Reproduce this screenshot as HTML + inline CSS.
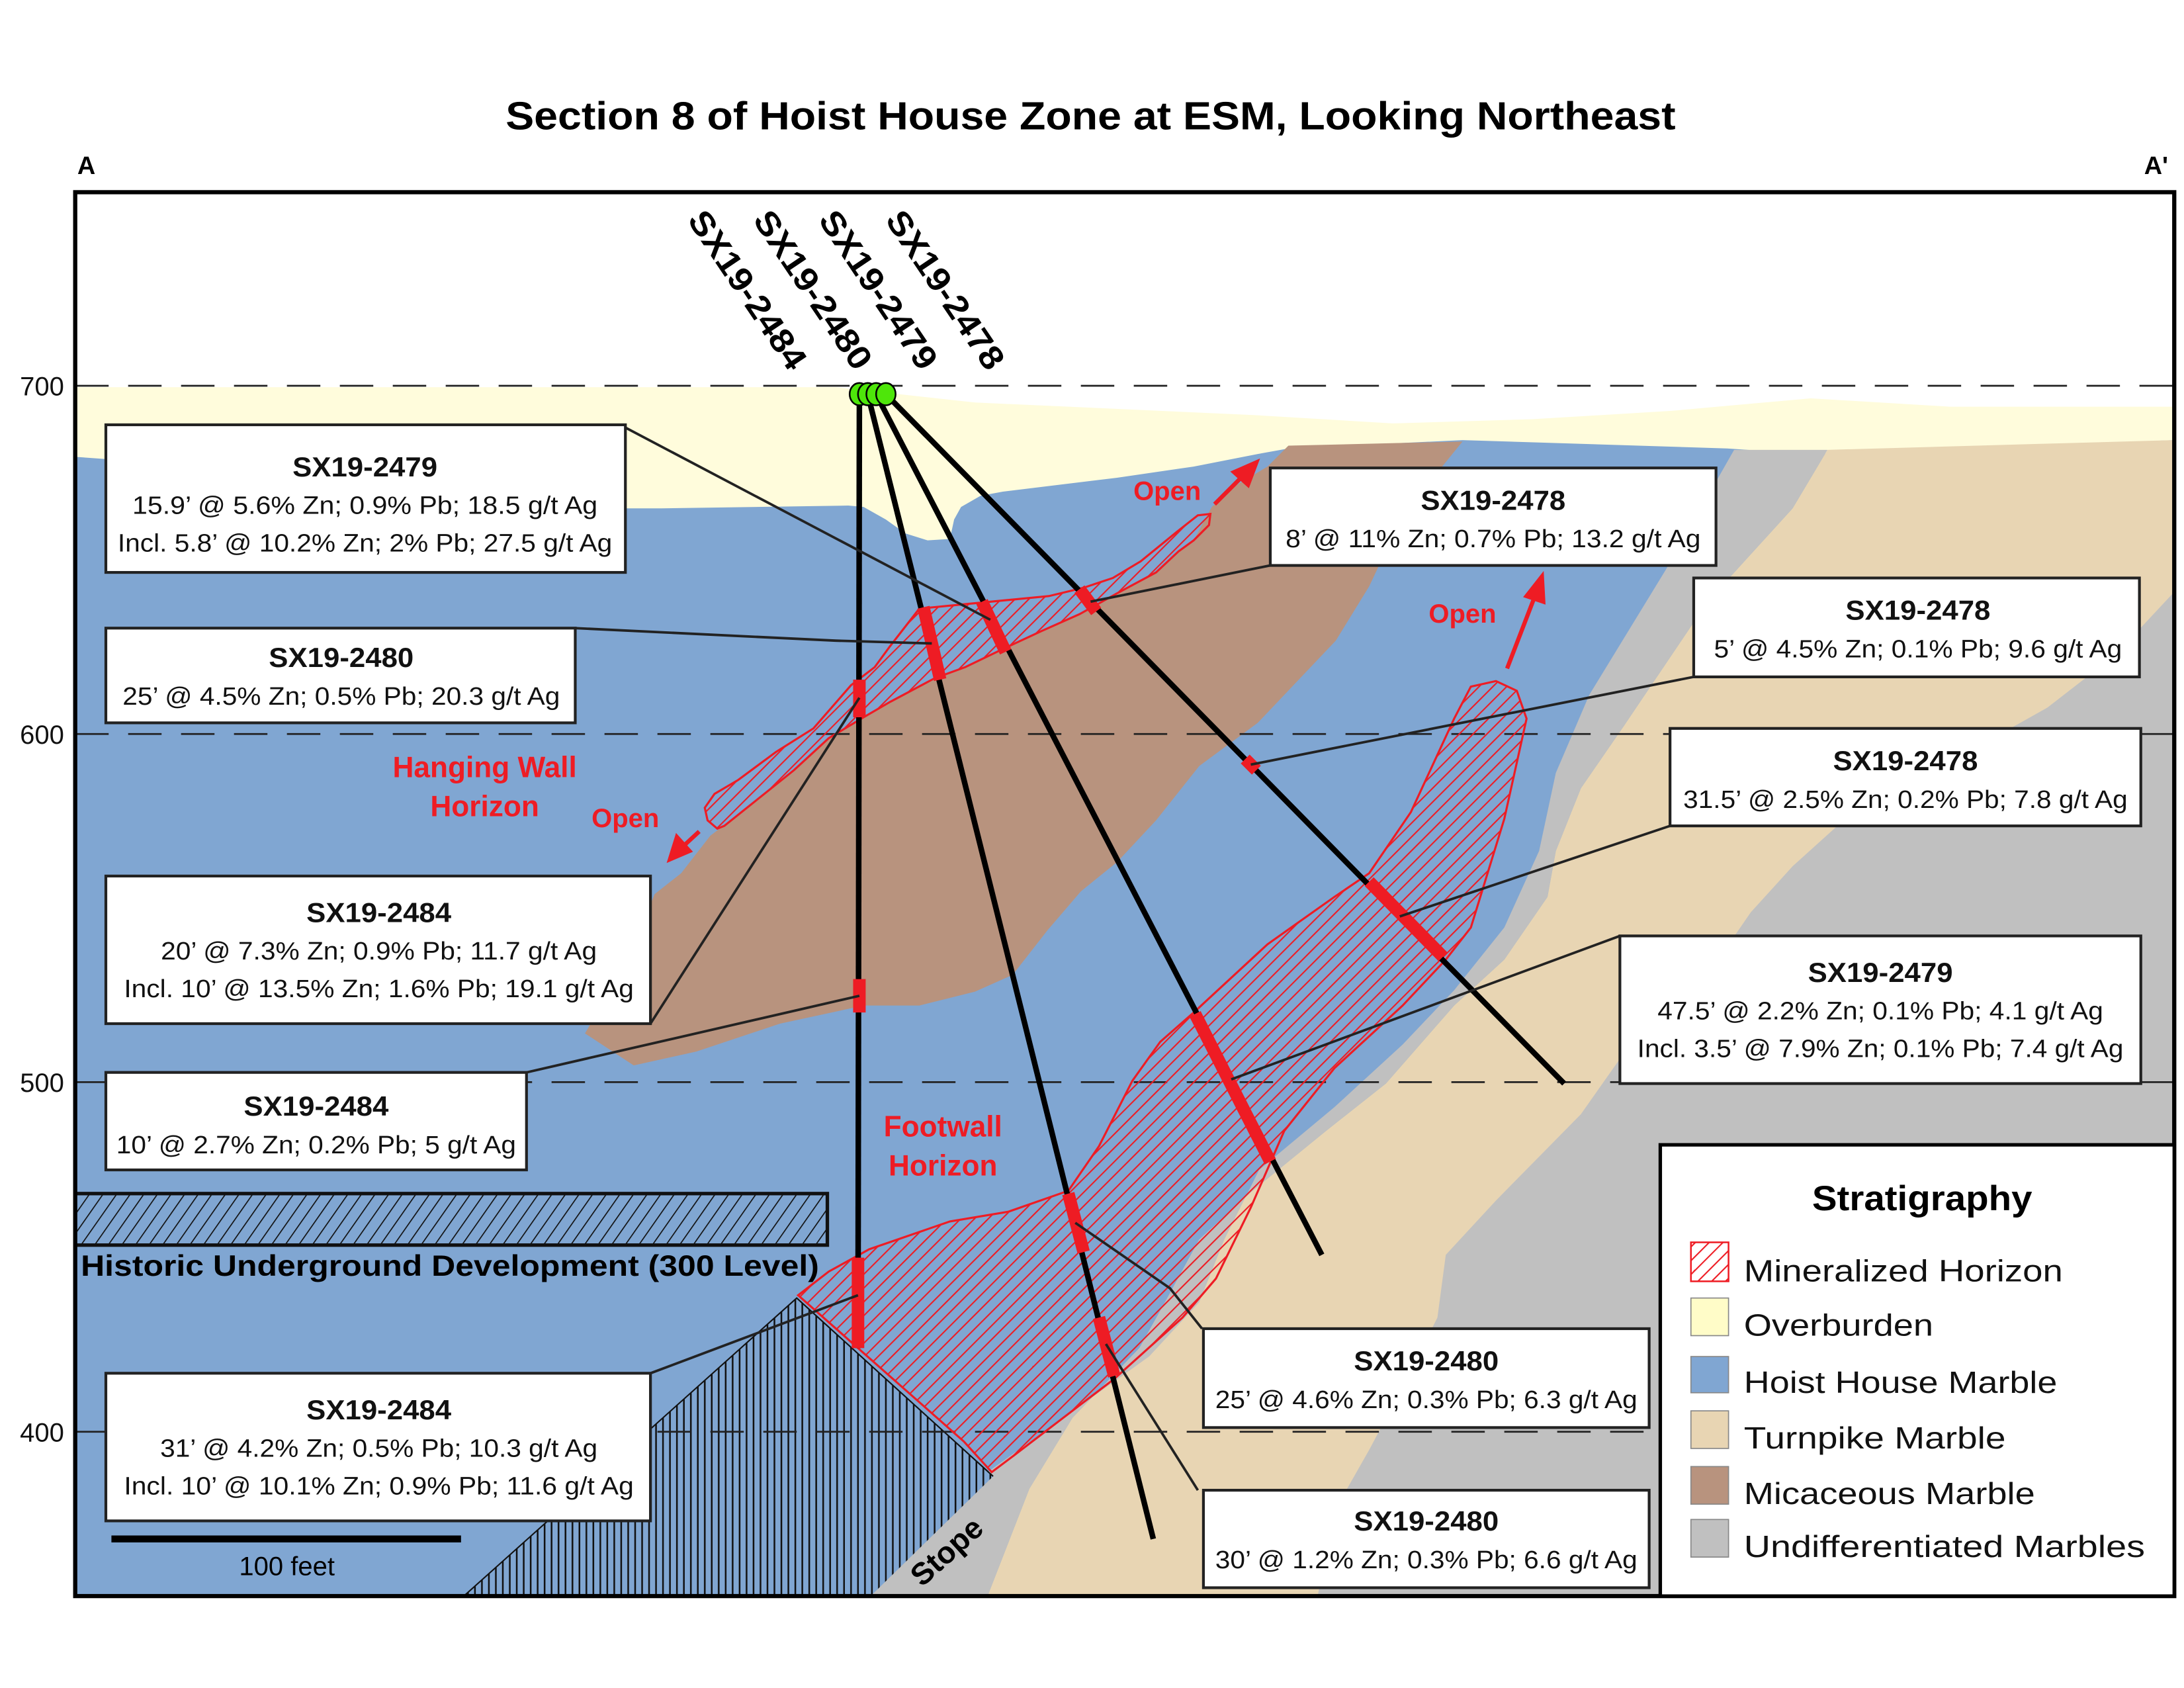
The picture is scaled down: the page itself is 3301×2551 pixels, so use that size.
<!DOCTYPE html>
<html><head><meta charset="utf-8"><style>html,body{margin:0;padding:0;background:#fff}svg{display:block}</style></head>
<body>
<svg xmlns="http://www.w3.org/2000/svg" width="3301" height="2551" viewBox="0 0 1568 1212" preserveAspectRatio="none" font-family="Liberation Sans, sans-serif">
<defs>
<clipPath id="fr"><rect x="54" y="138" width="1507" height="1008"/></clipPath>
<pattern id="red" patternUnits="userSpaceOnUse" width="7" height="7" patternTransform="rotate(45)">
<rect width="7" height="7" fill="none"/><line x1="0" y1="0" x2="0" y2="7" stroke="#ee1c24" stroke-width="2"/></pattern>
<pattern id="hist" patternUnits="userSpaceOnUse" width="8" height="8" patternTransform="rotate(35)">
<line x1="0" y1="0" x2="0" y2="8" stroke="#111" stroke-width="1.6"/></pattern>
<pattern id="vert" patternUnits="userSpaceOnUse" width="5" height="5">
<line x1="1" y1="0" x2="1" y2="5" stroke="#111" stroke-width="1.2"/></pattern>
</defs>
<rect width="1568" height="1212" fill="#fff"/>
<g clip-path="url(#fr)">
<!-- blue base -->
<rect x="54" y="312" width="1507" height="834" fill="#80a6d2"/>
<!-- overburden -->
<path d="M54,278 L600,278 L700,289 L900,298 L1000,304 L1100,301 L1200,295 L1300,286 L1400,292 L1561,292 L1561,316 L1300,326 L1240,322 L1050,316 L925,322 L903,326 L857,335 L802,343 L720,353 L704,356 L690,364 L685,373 L682,387 L666,388 L650,383 L636,373 L620,364 L609,363 L475,365 L450,365 L300,345 L150,335 L54,328 Z" fill="#fffcdc"/>
<!-- tan region right -->
<path d="M1312,323 L1561,316 L1561,1146 L709,1146 L739,1069 L770,1018 L818,968 L837,934 L861,890 L898,856 L952,812 L995,778 L1044,722 L1080,689 L1111,644 L1117,611 L1135,566 L1166,521 L1226,432 L1287,365 Z" fill="#e8d5b3"/>
<!-- grey strip 1 -->
<path d="M1245,323 L1312,323 L1287,365 L1226,432 L1166,521 L1135,566 L1117,611 L1111,644 L1080,689 L1044,722 L995,778 L952,812 L898,856 L861,890 L837,934 L818,968 L770,1018 L739,1069 L709,1146 L620,1146 L709,1057 L825,974 L861,935 L879,890 L904,840 L958,795 L1007,750 L1044,711 L1080,666 L1105,611 L1117,555 L1141,499 L1196,409 Z" fill="#c0c0c0"/>
<!-- grey region 2 -->
<path d="M1561,425 L1519,470 L1470,508 L1397,549 L1318,594 L1287,622 L1257,655 L1226,700 L1166,756 L1135,800 L1074,862 L1038,901 L1032,946 L1007,996 L983,1041 L958,1085 L946,1146 L1561,1146 Z" fill="#c0c0c0"/>
<!-- brown micaceous -->
<path d="M925,320 L1050,317 L1007,370 L983,421 L959,460 L903,519 L861,550 L830,589 L802,619 L776,640 L752,668 L727,700 L700,712 L660,722 L620,722 L560,735 L500,755 L455,765 L420,742 L450,690 L470,642 L489,627 L510,600 L535,581 L570,553 L595,530 L620,515 L639,504 L671,487 L693,479 L720,466 L748,453 L775,441 L802,426 L830,411 L846,396 L857,388 L870,364 L885,350 L910,335 Z" fill="#b8937e"/>
<!-- stope hatch -->
<path d="M333,1146 L572,932 L626,981 L713,1060 L623,1148 Z" fill="#80a6d2"/>
<path d="M333,1146 L572,932 L626,981 L713,1060 L623,1148 Z" fill="url(#vert)"/>
<path d="M333,1146 L572,932 L713,1060" fill="none" stroke="#111" stroke-width="1"/>
<!-- dashed lines -->
<g stroke="#222" stroke-width="1.3" stroke-dasharray="24,14">
<line x1="54" y1="277" x2="1561" y2="277"/>
<line x1="54" y1="527" x2="1561" y2="527"/>
<line x1="54" y1="777" x2="1561" y2="777"/>
<line x1="54" y1="1028" x2="1561" y2="1028"/>
</g>
<!-- hanging wall horizon -->
<path d="M506,580 L513,570 L530,560 L557,540 L584,523 L611,492 L628,479 L639,464 L660,437 L701,433 L753,428 L778,422 L799,415 L819,403 L846,381 L860,370 L869,369 L868,377 L857,388 L846,396 L830,411 L802,426 L775,441 L748,453 L720,466 L693,479 L671,487 L639,504 L620,515 L595,530 L570,553 L535,581 L520,593 L515,595 L508,589 Z" fill="url(#red)" stroke="#ee1c24" stroke-width="1.5"/>
<!-- footwall horizon -->
<path d="M1056,493 L1074,489 L1089,496 L1096,516 L1080,588 L1056,666 L1038,689 L1007,722 L958,767 L922,812 L898,867 L873,918 L849,946 L800,990 L728,1045 L712,1057 L692,1035 L624,975 L573,930 L595,913 L624,897 L682,877 L724,870 L767,855 L789,823 L813,776 L833,748 L857,727 L910,678 L958,644 L983,627 L1013,583 L1044,516 Z" fill="url(#red)" stroke="#ee1c24" stroke-width="1.5"/>
<!-- historic development -->
<rect x="54" y="857" width="540" height="37" fill="#80a6d2" stroke="#111" stroke-width="2.5"/>
<rect x="54" y="857" width="540" height="37" fill="url(#hist)"/>
</g>
<!-- drill holes -->
<g stroke="#000" stroke-width="4" stroke-linecap="butt">
<line x1="617" y1="283" x2="616" y2="968"/>
<line x1="623" y1="283" x2="828" y2="1105"/>
<line x1="629" y1="283" x2="949" y2="901"/>
<line x1="636" y1="283" x2="1123" y2="778"/>
</g>
<g stroke="#ee1c24" stroke-width="9">
<line x1="617" y1="488" x2="617" y2="515"/>
<line x1="617" y1="703" x2="617" y2="727"/>
<line x1="616" y1="903" x2="616" y2="968"/>
<line x1="663" y1="436" x2="675" y2="488"/>
<line x1="767" y1="857" x2="778" y2="899"/>
<line x1="789" y1="946" x2="800" y2="988"/>
<line x1="705" y1="432" x2="722" y2="468"/>
<line x1="858" y1="728" x2="912" y2="834"/>
<line x1="775" y1="423" x2="787" y2="439"/>
<line x1="894" y1="545" x2="902" y2="553"/>
<line x1="983" y1="633" x2="1036" y2="687"/>
</g>
<!-- collars -->
<g fill="#4ee60a" stroke="#000" stroke-width="1.2">
<ellipse cx="617" cy="283" rx="7" ry="8"/>
<ellipse cx="623" cy="283" rx="7" ry="8"/>
<ellipse cx="629" cy="283" rx="7" ry="8"/>
<ellipse cx="636" cy="283" rx="7" ry="8"/>
</g>
<!-- leaders -->
<g stroke="#222" stroke-width="1.8" fill="none">
<polyline points="449,307 711,445"/>
<polyline points="413,451 600,460 669,462"/>
<polyline points="467,735 617,501"/>
<polyline points="378,770 617,715"/>
<polyline points="467,986 616,930"/>
<polyline points="912,406 783,432"/>
<polyline points="1216,486 898,549"/>
<polyline points="1199,593 1005,658"/>
<polyline points="1163,672 884,775"/>
<polyline points="772,878 840,925 863,954"/>
<polyline points="794,965 860,1070"/>
</g>
<!-- frame -->
<rect x="54" y="138" width="1507" height="1008" fill="none" stroke="#000" stroke-width="3"/>
<!-- boxes -->
<g fill="#fff" stroke="#222" stroke-width="2">
<rect x="76" y="305" width="373" height="106"/>
<rect x="76" y="451" width="337" height="68"/>
<rect x="76" y="629" width="391" height="106"/>
<rect x="76" y="770" width="302" height="70"/>
<rect x="76" y="986" width="391" height="106"/>
<rect x="912" y="336" width="320" height="70"/>
<rect x="1216" y="415" width="320" height="71"/>
<rect x="1199" y="523" width="338" height="70"/>
<rect x="1163" y="672" width="374" height="106"/>
<rect x="864" y="954" width="320" height="71"/>
<rect x="864" y="1070" width="320" height="70"/>
<rect x="1192" y="822" width="369" height="324" stroke="#000" stroke-width="2.5"/>
</g>
<g font-size="18" fill="#111" text-anchor="middle">
<text x="262" y="342" font-weight="bold" font-size="20" textLength="104" lengthAdjust="spacingAndGlyphs">SX19-2479</text>
<text x="262" y="369" textLength="334" lengthAdjust="spacingAndGlyphs">15.9’ @ 5.6% Zn; 0.9% Pb; 18.5 g/t Ag</text>
<text x="262" y="396" textLength="355" lengthAdjust="spacingAndGlyphs">Incl. 5.8’ @ 10.2% Zn; 2% Pb; 27.5 g/t Ag</text>
<text x="245" y="479" font-weight="bold" font-size="20" textLength="104" lengthAdjust="spacingAndGlyphs">SX19-2480</text>
<text x="245" y="506" textLength="314" lengthAdjust="spacingAndGlyphs">25’ @ 4.5% Zn; 0.5% Pb; 20.3 g/t Ag</text>
<text x="272" y="662" font-weight="bold" font-size="20" textLength="104" lengthAdjust="spacingAndGlyphs">SX19-2484</text>
<text x="272" y="689" textLength="313" lengthAdjust="spacingAndGlyphs">20’ @ 7.3% Zn; 0.9% Pb; 11.7 g/t Ag</text>
<text x="272" y="716" textLength="366" lengthAdjust="spacingAndGlyphs">Incl. 10’ @ 13.5% Zn; 1.6% Pb; 19.1 g/t Ag</text>
<text x="227" y="801" font-weight="bold" font-size="20" textLength="104" lengthAdjust="spacingAndGlyphs">SX19-2484</text>
<text x="227" y="828" textLength="287" lengthAdjust="spacingAndGlyphs">10’ @ 2.7% Zn; 0.2% Pb; 5 g/t Ag</text>
<text x="272" y="1019" font-weight="bold" font-size="20" textLength="104" lengthAdjust="spacingAndGlyphs">SX19-2484</text>
<text x="272" y="1046" textLength="314" lengthAdjust="spacingAndGlyphs">31’ @ 4.2% Zn; 0.5% Pb; 10.3 g/t Ag</text>
<text x="272" y="1073" textLength="366" lengthAdjust="spacingAndGlyphs">Incl. 10’ @ 10.1% Zn; 0.9% Pb; 11.6 g/t Ag</text>
<text x="1072" y="366" font-weight="bold" font-size="20" textLength="104" lengthAdjust="spacingAndGlyphs">SX19-2478</text>
<text x="1072" y="393" textLength="298" lengthAdjust="spacingAndGlyphs">8’ @ 11% Zn; 0.7% Pb; 13.2 g/t Ag</text>
<text x="1377" y="445" font-weight="bold" font-size="20" textLength="104" lengthAdjust="spacingAndGlyphs">SX19-2478</text>
<text x="1377" y="472" textLength="293" lengthAdjust="spacingAndGlyphs">5’ @ 4.5% Zn; 0.1% Pb; 9.6 g/t Ag</text>
<text x="1368" y="553" font-weight="bold" font-size="20" textLength="104" lengthAdjust="spacingAndGlyphs">SX19-2478</text>
<text x="1368" y="580" textLength="319" lengthAdjust="spacingAndGlyphs">31.5’ @ 2.5% Zn; 0.2% Pb; 7.8 g/t Ag</text>
<text x="1350" y="705" font-weight="bold" font-size="20" textLength="104" lengthAdjust="spacingAndGlyphs">SX19-2479</text>
<text x="1350" y="732" textLength="320" lengthAdjust="spacingAndGlyphs">47.5’ @ 2.2% Zn; 0.1% Pb; 4.1 g/t Ag</text>
<text x="1350" y="759" textLength="349" lengthAdjust="spacingAndGlyphs">Incl. 3.5’ @ 7.9% Zn; 0.1% Pb; 7.4 g/t Ag</text>
<text x="1024" y="984" font-weight="bold" font-size="20" textLength="104" lengthAdjust="spacingAndGlyphs">SX19-2480</text>
<text x="1024" y="1011" textLength="303" lengthAdjust="spacingAndGlyphs">25’ @ 4.6% Zn; 0.3% Pb; 6.3 g/t Ag</text>
<text x="1024" y="1099" font-weight="bold" font-size="20" textLength="104" lengthAdjust="spacingAndGlyphs">SX19-2480</text>
<text x="1024" y="1126" textLength="303" lengthAdjust="spacingAndGlyphs">30’ @ 1.2% Zn; 0.3% Pb; 6.6 g/t Ag</text>
</g>
<!-- legend -->
<text x="1380" y="869" font-size="25" font-weight="bold" text-anchor="middle" textLength="158" lengthAdjust="spacingAndGlyphs">Stratigraphy</text>
<rect x="1214" y="892" width="27" height="28" fill="#fff" stroke="#ee1c24" stroke-width="1.2"/>
<rect x="1214" y="892" width="27" height="28" fill="url(#red)"/>
<rect x="1214" y="932" width="27" height="27" fill="#fffcc8" stroke="#888" stroke-width="0.8"/>
<rect x="1214" y="974" width="27" height="26" fill="#80a6d2" stroke="#888" stroke-width="0.8"/>
<rect x="1214" y="1013" width="27" height="27" fill="#e8d5b3" stroke="#888" stroke-width="0.8"/>
<rect x="1214" y="1053" width="27" height="27" fill="#b8937e" stroke="#888" stroke-width="0.8"/>
<rect x="1214" y="1091" width="27" height="27" fill="#c0c0c0" stroke="#888" stroke-width="0.8"/>
<g font-size="22" fill="#111">
<text x="1252" y="920" textLength="229" lengthAdjust="spacingAndGlyphs">Mineralized Horizon</text>
<text x="1252" y="959" textLength="136" lengthAdjust="spacingAndGlyphs">Overburden</text>
<text x="1252" y="1000" textLength="225" lengthAdjust="spacingAndGlyphs">Hoist House Marble</text>
<text x="1252" y="1040" textLength="188" lengthAdjust="spacingAndGlyphs">Turnpike Marble</text>
<text x="1252" y="1080" textLength="209" lengthAdjust="spacingAndGlyphs">Micaceous Marble</text>
<text x="1252" y="1118" textLength="288" lengthAdjust="spacingAndGlyphs">Undifferentiated Marbles</text>
</g>
<!-- title and axis -->
<text x="783" y="93" font-size="28" font-weight="bold" text-anchor="middle" textLength="840" lengthAdjust="spacingAndGlyphs">Section 8 of Hoist House Zone at ESM, Looking Northeast</text>
<text x="62" y="125" font-size="18" font-weight="bold" text-anchor="middle">A</text>
<text x="1548" y="125" font-size="18" font-weight="bold" text-anchor="middle">A'</text>
<g font-size="19" text-anchor="end" fill="#111">
<text x="46" y="284">700</text><text x="46" y="534">600</text><text x="46" y="784">500</text><text x="46" y="1035">400</text>
</g>
<!-- hole labels -->
<g font-size="24" font-weight="bold" fill="#000">
<text transform="translate(493,158) rotate(56)" textLength="132" lengthAdjust="spacingAndGlyphs">SX19-2484</text>
<text transform="translate(540,158) rotate(56)" textLength="132" lengthAdjust="spacingAndGlyphs">SX19-2480</text>
<text transform="translate(587,158) rotate(56)" textLength="132" lengthAdjust="spacingAndGlyphs">SX19-2479</text>
<text transform="translate(635,158) rotate(56)" textLength="132" lengthAdjust="spacingAndGlyphs">SX19-2478</text>
</g>
<!-- red labels -->
<g fill="#ee1c24" font-weight="bold" text-anchor="middle">
<text x="348" y="558" font-size="21">Hanging Wall</text>
<text x="348" y="586" font-size="21">Horizon</text>
<text x="677" y="816" font-size="21">Footwall</text>
<text x="677" y="844" font-size="21">Horizon</text>
<text x="449" y="594" font-size="19">Open</text>
<text x="838" y="359" font-size="19">Open</text>
<text x="1050" y="447" font-size="19">Open</text>
</g>
<g stroke="#ee1c24" stroke-width="3" fill="#ee1c24">
<line x1="872" y1="362" x2="893" y2="341"/><polygon points="902,332 886,339 896,348"/>
<line x1="1082" y1="480" x2="1102" y2="428"/><polygon points="1107,414 1096,428 1108,432"/>
<line x1="502" y1="597" x2="489" y2="609"/><polygon points="481,617 486,601 495,611"/>
</g>
<!-- other labels -->
<text x="58" y="916" font-size="21" font-weight="bold" textLength="530" lengthAdjust="spacingAndGlyphs">Historic Underground Development (300 Level)</text>
<line x1="80" y1="1105" x2="331" y2="1105" stroke="#000" stroke-width="5"/>
<text x="206" y="1131" font-size="19" text-anchor="middle">100 feet</text>
<text transform="translate(662,1140) rotate(-42)" font-size="22" font-weight="bold">Stope</text>
</svg>
</body></html>
